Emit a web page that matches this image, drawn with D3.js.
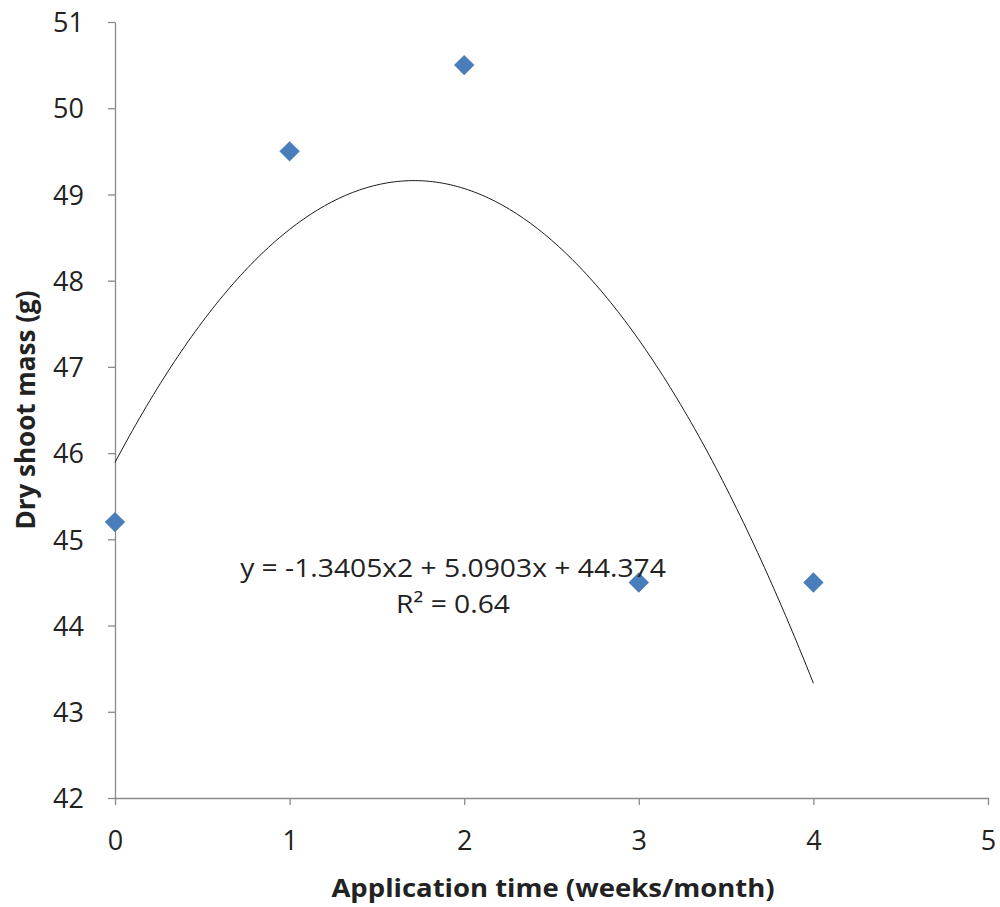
<!DOCTYPE html>
<html><head><meta charset="utf-8">
<script src="https://cdn.jsdelivr.net/npm/d3@7"></script>
<style>body{margin:0;background:#fff}svg{display:block}text{font-family:"Open Sans",sans-serif;fill:#222}</style>
</head><body>
<svg id="c" width="1000" height="907"></svg>
<script>
const xValues = [0, 1, 2, 3, 4];
const yValues = [45.2, 49.5, 50.5, 44.5, 44.5];
const xTicks = [0, 1, 2, 3, 4, 5];
const yTicks = [42, 43, 44, 45, 46, 47, 48, 49, 50, 51];
const xTitle = "Application time (weeks/month)";
const yTitle = "Dry shoot mass (g)";
const eqLabel = "y = -1.3405x2 + 5.0903x + 44.374";
const r2Label = "R² = 0.64";

const FONT = "'Open Sans', sans-serif";
const svg = d3.select("#c");
const x = d3.scaleLinear().domain([0, 5]).range([115, 988]);
const y = d3.scaleLinear().domain([42, 51]).range([798, 22]);

// axes
const gx = svg.append("g").attr("transform", "translate(0,798)")
  .call(d3.axisBottom(x).tickValues(xTicks).tickSize(7).tickSizeOuter(0).tickPadding(26).tickFormat(d3.format("d")));
const gy = svg.append("g").attr("transform", "translate(115,0)")
  .call(d3.axisLeft(y).tickValues(yTicks).tickSize(7).tickSizeOuter(0).tickPadding(24).tickFormat(d3.format("d")));
[gx, gy].forEach(g => {
  g.select(".domain").attr("stroke", "#8a8a8a").attr("stroke-width", 1.3);
  g.selectAll(".tick line").attr("stroke", "#8a8a8a").attr("stroke-width", 1.3);
  g.selectAll(".tick text").attr("font-family", FONT).attr("fill", "#222").attr("font-size", 27);
});
gy.selectAll(".tick text").attr("dy", "0.36em");

// polynomial (order 2) least-squares trendline computed from data
function polyFit(xs, ys) {
  const n = xs.length;
  const S = k => d3.sum(xs, v => Math.pow(v, k));
  const T = k => d3.sum(xs.map((v, i) => Math.pow(v, k) * ys[i]));
  const A = [[n, S(1), S(2), T(0)], [S(1), S(2), S(3), T(1)], [S(2), S(3), S(4), T(2)]];
  for (let i = 0; i < 3; i++) {
    for (let j = i + 1; j < 3; j++) {
      const f = A[j][i] / A[i][i];
      for (let k = i; k < 4; k++) A[j][k] -= f * A[i][k];
    }
  }
  const c = [0, 0, 0];
  for (let i = 2; i >= 0; i--) {
    let s = A[i][3];
    for (let k = i + 1; k < 3; k++) s -= A[i][k] * c[k];
    c[i] = s / A[i][i];
  }
  return c;
}
const coef = polyFit(xValues, yValues);
const trend = d3.range(0, 4.0001, 0.02).map(t => [t, coef[0] + coef[1] * t + coef[2] * t * t]);
svg.append("path").datum(trend)
  .attr("fill", "none").attr("stroke", "#1a1a1a").attr("stroke-width", 1)
  .attr("d", d3.line().x(d => x(d[0])).y(d => y(d[1])));

// markers
svg.append("g").selectAll("path").data(xValues).join("path")
  .attr("transform", (d, i) => `translate(${x(d)},${y(yValues[i])})`)
  .attr("d", d3.symbol().type(d3.symbolDiamond2).size(265))
  .attr("fill", "#4a7ebb");

// trendline label
svg.append("text").attr("transform", "translate(453,577) scale(1.13,1)").attr("text-anchor", "middle").attr("font-size", 25).text(eqLabel);
svg.append("text").attr("transform", "translate(453,613) scale(1.13,1)").attr("text-anchor", "middle").attr("font-size", 25).text(r2Label);

// titles
svg.append("text").attr("transform", "translate(553,897) scale(1.1,1)").attr("text-anchor", "middle")
  .attr("font-size", 25).attr("font-weight", "bold").text(xTitle);
svg.append("text").attr("transform", "translate(35,410) rotate(-90)").attr("text-anchor", "middle")
  .attr("font-size", 26).attr("font-weight", "bold").text(yTitle);
</script>
</body></html>
